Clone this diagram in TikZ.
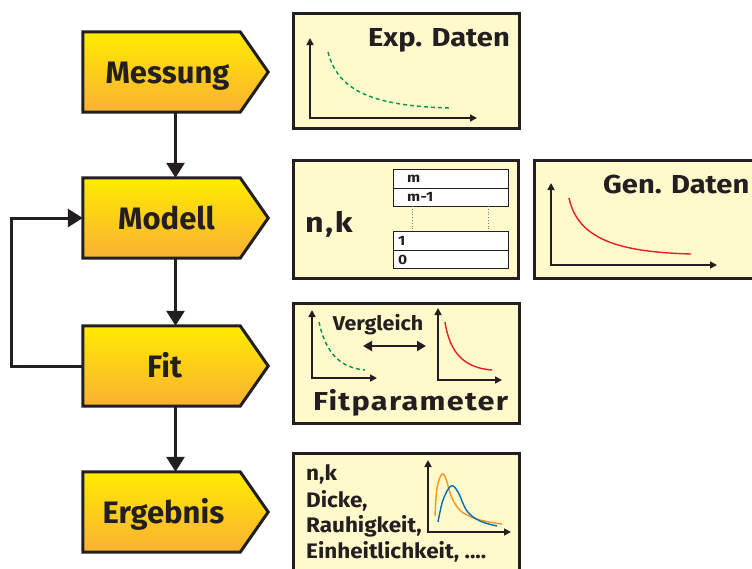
\documentclass[tikz,border=0pt]{standalone}
\usepackage{fontspec}
\setmainfont{Fira Sans}
\usetikzlibrary{arrows.meta,calc}
\definecolor{ink}{RGB}{35,31,32}
\definecolor{boxfill}{RGB}{255,249,204}
\definecolor{ytop}{RGB}{255,236,0}
\definecolor{ybot}{RGB}{250,176,52}
\definecolor{expgreen}{RGB}{0,150,70}
\definecolor{genred}{RGB}{230,30,40}
\definecolor{corange}{RGB}{245,150,30}
\definecolor{cblue}{RGB}{0,110,190}
\newcommand\pentpath[1]{%
  \path[draw=ink, line width=3pt, line join=miter, top color=ytop, bottom color=ybot]
    (#1.north west) -- ($(#1.north east)+(-28,0)$) -- (#1.east)
    -- ($(#1.south east)+(-28,0)$) -- (#1.south west) -- cycle;}
\newcommand\wide[2]{\addfontfeatures{FakeStretch=#1,LetterSpace=#2}}
\tikzset{
  stage/.style={rectangle, minimum width=185pt, minimum height=80pt, inner sep=0pt},
  stagetext/.style={anchor=base, inner sep=0pt, text=ink, font=\bfseries\fontsize{31}{33}\selectfont},
  flow/.style={draw=ink, line width=3pt, -{Triangle[length=15pt,width=18pt]}},
  panel/.style={rectangle, draw=ink, line width=3pt, fill=boxfill, inner sep=0pt},
  axes/.style={draw=ink, line width=1.6pt, {Triangle[length=7pt,width=7pt]}-{Triangle[length=7pt,width=7pt]}},
  bigtext/.style={inner sep=0pt, text=ink, font=\bfseries\fontsize{26}{28}\selectfont\wide{1.12}{0}},
  midtext/.style={inner sep=0pt, text=ink, anchor=base west, font=\bfseries\fontsize{21}{24}\selectfont\wide{1.07}{0}},
  layer/.style={rectangle, draw=ink, line width=0.8pt, fill=white, minimum width=115pt, inner sep=0pt},
  layertext/.style={inner sep=0pt, text=ink, anchor=west, font=\bfseries\fontsize{13.5}{14}\selectfont\wide{1.15}{2}},
  expcurve/.style={draw=expgreen, line width=1.4pt, dash pattern=on 4pt off 3pt},
  gencurve/.style={draw=genred, line width=1.4pt},
}
\begin{document}
\begin{tikzpicture}[x=1pt,y=-1pt]
\useasboundingbox (0,0) rectangle (752,568);

% ---- stages
\node[stage] (mess) at (175.5,72) {};
\node[stage] (mod)  at (175.5,218) {};
\node[stage] (fitb) at (175.5,366) {};
\node[stage] (erg)  at (175.5,512) {};
\pentpath{mess}
\pentpath{mod}
\pentpath{fitb}
\pentpath{erg}
\node[stagetext] (messT) at ($(mess.center)+(-8,11)$) {Messung};
\node[stagetext] (modT)  at ($(mod.center)+(-9,11)$) {Modell};
\node[stagetext] (fitT)  at ($(fitb.center)+(-11,11)$) {Fit};
\node[stagetext] (ergT)  at ($(erg.center)+(-12,11)$) {Ergebnis};

\draw[flow] (mess.south) -- (mod.north);
\draw[flow] (mod.south) -- (fitb.north);
\draw[flow] (fitb.south) -- (erg.north);
\draw[flow] (fitb.west) -- ++(-71,0) |- (mod.west);

% ---- panel: Exp. Daten
\node[panel, minimum width=226pt, minimum height=115pt] (pexp) at (406,70.5) {};
\node[bigtext, anchor=base east] (texp) at (510,46) {Exp. Daten};
\draw[axes] (310,38) |- (477,118);
\draw[expcurve] (328,52) .. controls (338,92) and (375,106) .. (450,108);

% ---- panel: Modell
\node[panel, minimum width=225pt, minimum height=118pt] (pmod) at (405.5,219) {};
\node[bigtext, anchor=base west, font=\bfseries\fontsize{28}{30}\selectfont\wide{1.15}{6}] (tnk) at (305,232) {n,k};
\node[layer, minimum height=19pt] (lm)  at (450.5,178.5) {};
\node[layer, minimum height=18pt] (lm1) at (450.5,197) {};
\node[layer, minimum height=19pt] (l1)  at (450.5,240.5) {};
\node[layer, minimum height=18pt] (l0)  at (450.5,259.5) {};
\node[layertext] (tm)  at (407,178.5) {m};
\node[layertext] (tm1) at (407,197) {m-1};
\node[layertext] (t1)  at (398,240.5) {1};
\node[layertext] (t0)  at (398,259.5) {0};
\draw[ink!60, line width=0.8pt, dotted] (412,206) -- (412,231);
\draw[ink!60, line width=0.8pt, dotted] (488,206) -- (488,231);

% ---- panel: Gen. Daten
\node[panel, minimum width=240pt, minimum height=118pt] (pgen) at (654,219) {};
\node[bigtext, anchor=base west] (tgen) at (603,193) {Gen. Daten};
\draw[axes] (551,183) |- (717,265);
\draw[gencurve] (569,198) .. controls (578,240) and (620,252) .. (691,254);

% ---- panel: Fit
\node[panel, minimum width=226pt, minimum height=120pt] (pfit) at (406,363) {};
\draw[axes] (312,310) |- (377,378);
\draw[expcurve] (319,322) .. controls (326,355) and (342,368) .. (365,370);
\draw[axes] (438,308) |- (502,380);
\draw[gencurve] (445,322) .. controls (450,355) and (466,368) .. (492,370);
\node[inner sep=0pt, text=ink, anchor=base, font=\bfseries\fontsize{20}{22}\selectfont\wide{1.07}{0}] (tverg) at (378,330) {Vergleich};
\coordinate (va) at (363,346);
\coordinate (vb) at (426,346);
\draw[draw=ink, line width=2pt, {Triangle[length=9pt,width=10pt]}-{Triangle[length=9pt,width=10pt]}] (va) -- (vb);
\node[bigtext, anchor=base west, font=\bfseries\fontsize{26}{28}\selectfont\wide{1.18}{5}] (tfitp) at (313,410) {Fitparameter};

% ---- panel: Ergebnis
\node[panel, minimum width=226pt, minimum height=130pt] (perg) at (406,518) {};
\node[midtext] (e1) at (306,480) {n,k};
\node[midtext] (e2) at (306,507) {Dicke,};
\node[midtext] (e3) at (306,532) {Rauhigkeit,};
\node[midtext] (e4) at (306,558) {Einheitlichkeit, ....};
\draw[axes] (428,460) |- (511,532);
\draw[draw=corange, line width=1.4pt] plot[smooth, tension=0.6] coordinates {(435,516) (437,488) (442,474) (446,479) (452,498) (462,512) (480,520) (502,524)};
\draw[draw=cblue, line width=1.4pt] plot[smooth, tension=0.6] coordinates {(438,522) (443,500) (451,486) (458,492) (467,511) (480,521) (497,526)};
\end{tikzpicture}
\end{document}
